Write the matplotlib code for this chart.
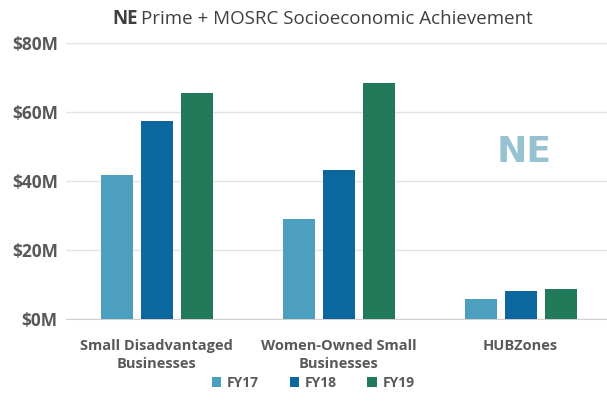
import numpy as np
import matplotlib.pyplot as plt

plt.rcParams['font.family'] = ['Open Sans', 'DejaVu Sans']

# data ($M)
categories = ['Small Disadvantaged\nBusinesses', 'Women-Owned Small\nBusinesses', 'HUBZones']
years = ['FY17', 'FY18', 'FY19']
fy17 = [41.8, 29.1, 5.8]
fy18 = [57.4, 43.2, 8.1]
fy19 = [65.6, 68.6, 8.9]
yticks = [0, 20, 40, 60, 80]

colors = ['#4c9fbf', '#0b679e', '#217a59']
text_col = '#595959'

fig = plt.figure(figsize=(6.07, 4.04), dpi=100)
ax = fig.add_axes([66 / 607, 0.2097, 1 - 66 / 607, 0.6831])

x = np.arange(len(categories))
w = 0.176
step = 0.22
for i, (vals, lab) in enumerate(zip([fy17, fy18, fy19], years)):
    ax.bar(x + (i - 1) * step, vals, w, color=colors[i], label=lab, zorder=3)

ax.set_ylim(0, 80)
ax.set_xlim(-0.5, 2.475)
ax.set_yticks(yticks)
ax.set_yticklabels([f'${v}M' for v in yticks])
ax.set_xticks(x)
ax.set_xticklabels(categories, linespacing=1.35)
ax.grid(axis='y', color='#e3e3e3', linewidth=1, zorder=0)
for s in ['top', 'right', 'left']:
    ax.spines[s].set_visible(False)
ax.spines['bottom'].set_color('#d0d0d0')
ax.tick_params(axis='x', length=0, labelsize=10.5, labelcolor=text_col, pad=14)
ax.tick_params(axis='y', length=0, labelsize=12.5, labelcolor=text_col, pad=6)
for t in ax.get_xticklabels() + ax.get_yticklabels():
    t.set_fontweight('bold')

# watermark
ax.text(2.018, 48.5, 'NE', fontsize=26, fontweight='bold', color='#97c2d1',
        family='DejaVu Sans', ha='center', va='center')

# title with bold "NE"
t1 = fig.text(0.185, 0.952, 'NE', fontsize=13.5, fontweight='bold', color='#404040',
              ha='left', va='center')
fig.canvas.draw()
bb = t1.get_window_extent()
fig.text(bb.x1 / fig.bbox.width + 0.006, 0.952, 'Prime + MOSRC Socioeconomic Achievement',
         fontsize=13.5, color='#404040', ha='left', va='center')

leg = fig.legend(loc='center', bbox_to_anchor=(0.516, 0.053), ncol=3, frameon=False,
                 handlelength=0.7, handleheight=0.7, columnspacing=2.2, handletextpad=0.4,
                 prop={'weight': 'bold', 'size': 10})
for t in leg.get_texts():
    t.set_color(text_col)

fig.savefig('out.png', dpi=100)
